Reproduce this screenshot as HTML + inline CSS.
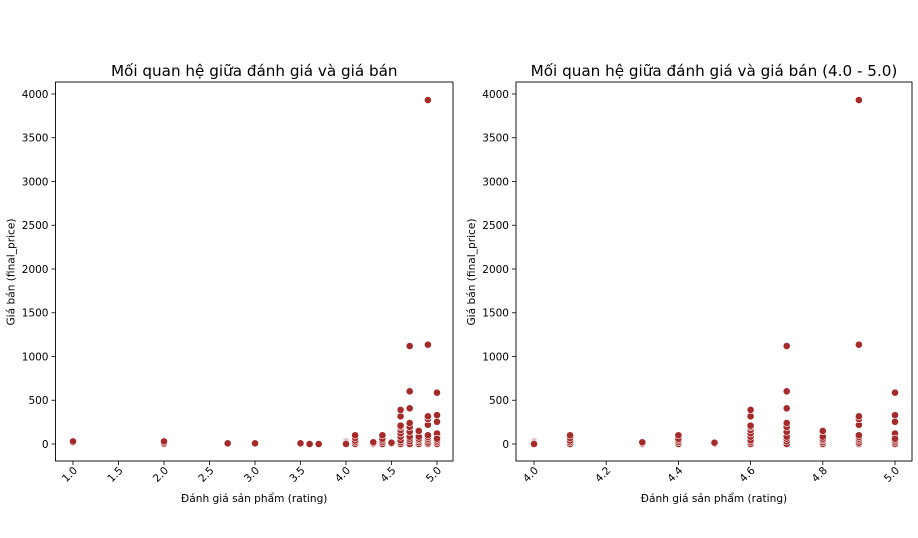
<!DOCTYPE html>
<html><head><meta charset="utf-8"><style>
body{margin:0;background:#fff;}
svg{display:block;font-family:"DejaVu Sans","Liberation Sans",sans-serif;}
</style></head><body>
<svg id="chart" width="918" height="538" viewBox="0 0 918 538"></svg>
<script>
const ratings = [1.0,1.0,2.0,2.0,2.0,2.7,3.0,3.5,3.6,3.7,
4.0,4.0,4.0,4.0,
4.1,4.1,4.1,4.1,4.1,
4.3,4.3,4.3,
4.4,4.4,4.4,4.4,4.4,
4.5,4.5,4.5,
4.6,4.6,4.6,4.6,4.6,4.6,4.6,4.6,4.6,4.6,
4.7,4.7,4.7,4.7,4.7,4.7,4.7,4.7,4.7,4.7,
4.8,4.8,4.8,4.8,4.8,4.8,
4.9,4.9,4.9,4.9,4.9,4.9,4.9,4.9,4.9,4.9,4.9,
5.0,5.0,5.0,5.0,5.0,5.0,5.0,5.0,5.0];
const prices = [20,30,0,15,30,8,8,8,0,0,
30,20,10,0,
0,20,40,70,100,
0,10,20,
0,20,40,60,100,
0,5,15,
0,20,42,84,122,160,195,210,316,390,
0,30,60,84,140,195,240,408,602,1120,
0,20,42,60,84,149,
0,15,40,60,80,100,219,285,316,1135,3931,
0,20,40,84,120,254,330,586,60];
const yTicks = [0,500,1000,1500,2000,2500,3000,3500,4000];
const xTicksLeft = [1.0,1.5,2.0,2.5,3.0,3.5,4.0,4.5,5.0];
const xTicksRight = [4.0,4.2,4.4,4.6,4.8,5.0];

const NS="http://www.w3.org/2000/svg";
const svg=document.getElementById('chart');
function mk(tag,attrs,parent,text){const e=document.createElementNS(NS,tag);for(const k in attrs)e.setAttribute(k,attrs[k]);if(text!==undefined)e.textContent=text;(parent||svg).appendChild(e);return e;}

function panel(cfg){
  const g=mk('g',{});
  
  
  const X=v=>cfg.x0+(v-cfg.v0)*cfg.px;
  const Y=v=>444-v*0.0875;
  const frame=mk('rect',{x:cfg.left,y:82,width:cfg.right-cfg.left,height:379,fill:'none',stroke:'#000','stroke-width':0.9},g);
  
  
  yTicks.forEach(t=>{
    const y=Y(t);
    mk('line',{x1:cfg.left-4,x2:cfg.left,y1:y,y2:y,stroke:'#000','stroke-width':0.8},g);
    const tx=mk('text',{x:cfg.left-7,y:y+3.8,'text-anchor':'end','font-size':10.5,fill:'#000'},g,String(t));
    
    
  });
  cfg.ticks.forEach(t=>{
    const x=X(t);
    mk('line',{x1:x,x2:x,y1:461,y2:465,stroke:'#000','stroke-width':0.8},g);
    const tx=mk('text',{x:0,y:0,'text-anchor':'end','font-size':10.5,fill:'#000',transform:`translate(${x+5},${471}) rotate(-45)`},g,t.toFixed(1));
    
    
  });
  for(let i=0;i<ratings.length;i++){
    if(ratings[i]<cfg.min)continue;
    const c=mk('circle',{cx:X(ratings[i]),cy:Y(prices[i]),r:3.6,fill:'#a52a2a',stroke:'#fff','stroke-width':0.6},g);
    
    
  }
  const cx=(cfg.left+cfg.right)/2;
  const ti=mk('text',{x:cx,y:76,'text-anchor':'middle','font-size':15.2,fill:'#000'},g,cfg.title);
  
  
  const xl=mk('text',{x:cx,y:502,'text-anchor':'middle','font-size':10.6,fill:'#000'},g,'Đánh giá sản phẩm (rating)');
  
  
  const yl=mk('text',{x:0,y:0,'text-anchor':'middle','font-size':10.6,fill:'#000',transform:`translate(${cfg.left-41},272) rotate(-90)`},g,'Giá bán (final_price)');
  
  
}
panel({name:'left-panel',left:55.5,right:453,x0:73,v0:1.0,px:91,min:0,ticks:xTicksLeft,title:'Mối quan hệ giữa đánh giá và giá bán'});
panel({name:'right-panel',left:516,right:912,x0:534,v0:4.0,px:361,min:3.99,ticks:xTicksRight,title:'Mối quan hệ giữa đánh giá và giá bán (4.0 - 5.0)'});
</script>
</body></html>
